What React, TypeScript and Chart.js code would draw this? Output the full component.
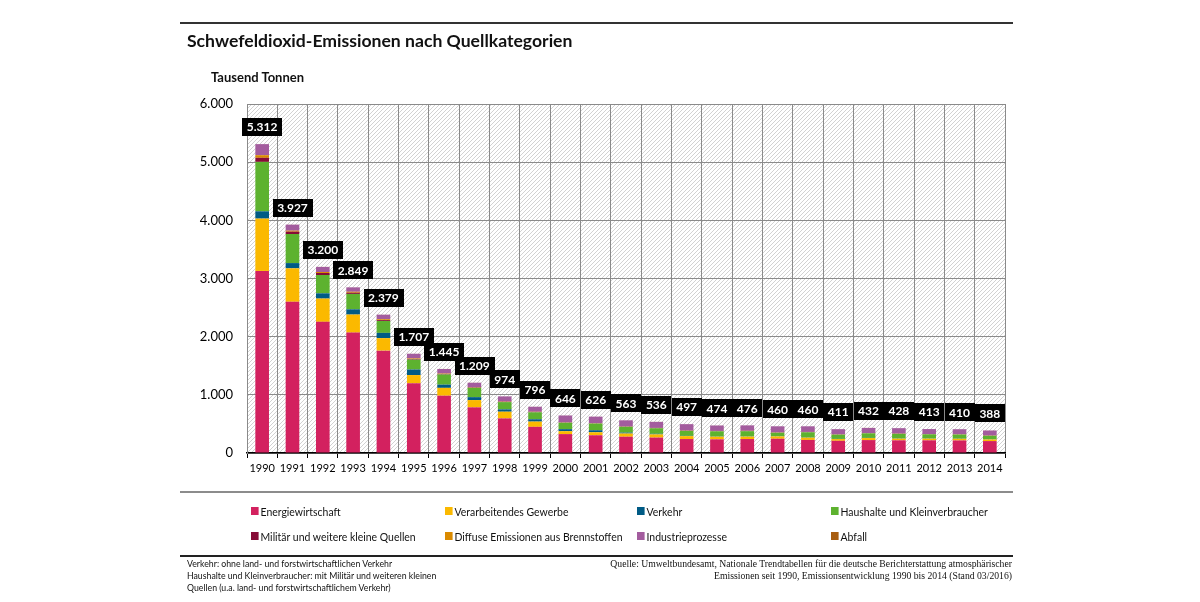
import React, { useEffect, useRef } from "react";
import { Chart, registerables } from "chart.js";

Chart.register(...registerables);

const years = ["1990","1991","1992","1993","1994","1995","1996","1997","1998","1999","2000","2001","2002","2003","2004","2005","2006","2007","2008","2009","2010","2011","2012","2013","2014"];
const energiewirtschaft = [3130,2600,2255,2070,1760,1200,985,785,595,450,325,305,280,265,240,235,240,245,225,210,222,218,218,216,205];
const verarbeitendesGewerbe = [900,575,400,310,215,140,135,125,115,90,50,52,55,55,50,45,42,40,38,30,35,28,28,28,28];
const verkehr = [125,90,90,90,90,95,55,50,40,40,35,34,15,10,5,3,3,3,3,3,3,3,3,3,3];
const haushalte = [850,500,315,265,205,170,175,160,125,120,110,115,100,95,85,90,90,60,90,72,78,80,72,70,60];
const militaer = [70,40,35,20,15,10,8,6,5,4,3,3,3,3,3,3,3,3,3,3,3,3,3,3,3];
const diffuse = [45,17,17,17,15,10,7,6,5,4,3,3,3,3,3,3,3,3,3,3,3,3,3,3,3];
const industrie = [190,104,87,76,78,81,79,76,88,87,119,113,106,104,110,94,94,105,97,89,87,92,85,86,85];
const abfall = [2,1,1,1,1,1,1,1,1,1,1,1,1,1,1,1,1,1,1,1,1,1,1,1,1];
const totals = [5312,3927,3200,2849,2379,1707,1445,1209,974,796,646,626,563,536,497,474,476,460,460,411,432,428,413,410,388];
const yMin = 0;
const yMax = 6000;
const yStep = 1000;

const seriesNames = ["Energiewirtschaft","Verarbeitendes Gewerbe","Verkehr","Haushalte und Kleinverbraucher","Militär und weitere kleine Quellen","Diffuse Emissionen aus Brennstoffen","Industrieprozesse","Abfall"];
const seriesValues = [energiewirtschaft, verarbeitendesGewerbe, verkehr, haushalte, militaer, diffuse, industrie, abfall];
const seriesColors = ["#d3215f","#fbb900","#005b85","#5db22f","#870c37","#da8a00","#a35c9e","#a85d10"];

const fmt = (v: number) => String(v).replace(/\B(?=(\d{3})+(?!\d))/g, ".");

const SANS = "Lato, 'Noto Sans', sans-serif";

function makePattern(): CanvasPattern | string {
  const c = document.createElement("canvas");
  c.width = 4;
  c.height = 4;
  const g = c.getContext("2d");
  if (!g) return "#fff";
  g.fillStyle = "#ffffff";
  g.fillRect(0, 0, 4, 4);
  g.strokeStyle = "#d2d2d2";
  g.lineWidth = 1;
  g.beginPath();
  g.moveTo(0, 4); g.lineTo(4, 0);
  g.moveTo(-1, 1); g.lineTo(1, -1);
  g.moveTo(3, 5); g.lineTo(5, 3);
  g.stroke();
  const p = g.createPattern(c, "repeat");
  return p || "#fff";
}

export default function App() {
  const ref = useRef<HTMLCanvasElement | null>(null);

  useEffect(() => {
    const canvas = ref.current;
    if (!canvas) return;
    const pattern = makePattern();

    const hatch = {
      id: "hatch",
      beforeDraw(chart: any) {
        const { ctx, chartArea } = chart;
        ctx.save();
        ctx.fillStyle = "#ffffff";
        ctx.fillRect(0, 0, chart.width, chart.height);
        ctx.fillStyle = pattern;
        ctx.fillRect(chartArea.left, chartArea.top, chartArea.right - chartArea.left, chartArea.bottom - chartArea.top);
        ctx.restore();
      },
    };

    const valueLabels = {
      id: "valueLabels",
      afterDatasetsDraw(chart: any) {
        const { ctx } = chart;
        const xs = chart.scales.x;
        const ys = chart.scales.y;
        ctx.save();
        ctx.font = `bold 12px ${SANS}`;
        ctx.textAlign = "center";
        ctx.textBaseline = "middle";
        totals.forEach((t, i) => {
          const x = xs.getPixelForValue(i);
          const yTop = ys.getPixelForValue(t);
          const label = fmt(t);
          const w = ctx.measureText(label).width + 9;
          const h = 18;
          const bottom = yTop - 8;
          ctx.fillStyle = "#000";
          ctx.fillRect(Math.round(x - w / 2), Math.round(bottom - h), Math.round(w), h);
          ctx.fillStyle = "#fff";
          ctx.fillText(label, x, bottom - h / 2 + 0.5);
        });
        ctx.restore();
      },
    };

    const chart = new Chart(canvas, {
      type: "bar",
      data: {
        labels: years,
        datasets: seriesNames.map((name, k) => ({
          label: name,
          data: seriesValues[k],
          backgroundColor: seriesColors[k],
          borderWidth: 0,
          barPercentage: 0.45,
          categoryPercentage: 1,
          stack: "s",
        })),
      },
      options: {
        responsive: false,
        animation: false,
        layout: { padding: { left: 0, top: 104, right: 195, bottom: 119 } },
        plugins: {
          legend: { display: false },
          tooltip: { enabled: false },
          title: { display: false },
        },
        scales: {
          x: {
            stacked: true,
            afterFit: (s: any) => { s.height = 30; },
            grid: {
              offset: true,
              color: "#8a8a8a",
              tickColor: "#000",
              tickLength: 5,
              lineWidth: 1,
            },
            border: { display: true, color: "#000", width: 1.5 },
            ticks: {
              color: "#000",
              font: { family: SANS, size: 11 },
              padding: 4,
              maxRotation: 0,
              autoSkip: false,
            },
          },
          y: {
            stacked: true,
            min: yMin,
            max: yMax,
            afterFit: (s: any) => { s.width = 247; },
            grid: { color: "#8a8a8a", lineWidth: 1, drawTicks: false },
            border: { display: true, color: "#8a8a8a", width: 1 },
            ticks: {
              stepSize: yStep,
              color: "#000",
              font: { family: SANS, size: 13 },
              padding: 14,
              callback: (v: any) => fmt(Number(v)),
            },
          },
        },
      },
      plugins: [hatch, valueLabels],
    });
    return () => chart.destroy();
  }, []);

  const legendX = [251, 445, 637, 831];
  const legendY = [511, 536];

  return (
    <div style={{ position: "absolute", left: 0, top: 0, width: 1200, height: 602, background: "#fff", overflow: "hidden", fontFamily: SANS, color: "#111" }}>
      <canvas ref={ref} width={1200} height={602} style={{ position: "absolute", left: 0, top: 0, width: 1200, height: 602 }} />
      <div style={{ position: "absolute", left: 180, top: 22, width: 833, height: 2, background: "#333" }} />
      <div style={{ position: "absolute", left: 187, top: 31, lineHeight: "20px", fontSize: 17.6, fontWeight: 700, whiteSpace: "nowrap" }}>
        Schwefeldioxid-Emissionen nach Quellkategorien
      </div>
      <div style={{ position: "absolute", left: 211, top: 69, lineHeight: "16px", fontSize: 13, fontWeight: 700, whiteSpace: "nowrap" }}>
        Tausend Tonnen
      </div>
      <div style={{ position: "absolute", left: 180, top: 491, width: 833, height: 2, background: "#8c8c8c" }} />
      {seriesNames.map((name, k) => (
        <div key={name} style={{ position: "absolute", left: legendX[k % 4], top: legendY[Math.floor(k / 4)] - 7, height: 14, display: "flex", alignItems: "center", whiteSpace: "nowrap", fontSize: 11, transform: "scaleX(0.95)", transformOrigin: "left center" }}>
          <span style={{ display: "inline-block", width: 8, height: 8, background: seriesColors[k], marginRight: 2 }} />
          <span>{name}</span>
        </div>
      ))}
      <div style={{ position: "absolute", left: 180, top: 555, width: 833, height: 2, background: "#222" }} />
      <div style={{ position: "absolute", left: 187, top: 558, fontSize: 9, lineHeight: "12px", whiteSpace: "nowrap", transform: "scaleX(0.97)", transformOrigin: "left top" }}>
        <div>Verkehr: ohne land- und forstwirtschaftlichen Verkehr</div>
        <div>Haushalte und Kleinverbraucher: mit Militär und weiteren kleinen</div>
        <div>Quellen (u.a. land- und forstwirtschaftlichem Verkehr)</div>
      </div>
      <div style={{ position: "absolute", right: 188, top: 558, fontSize: 9.7, lineHeight: "12px", whiteSpace: "nowrap", textAlign: "right", fontFamily: "'Liberation Serif', 'DejaVu Serif', serif" }}>
        <div>Quelle: Umweltbundesamt, Nationale Trendtabellen für die deutsche Berichterstattung atmosphärischer</div>
        <div>Emissionen seit 1990, Emissionsentwicklung 1990 bis 2014 (Stand 03/2016)</div>
      </div>
    </div>
  );
}
